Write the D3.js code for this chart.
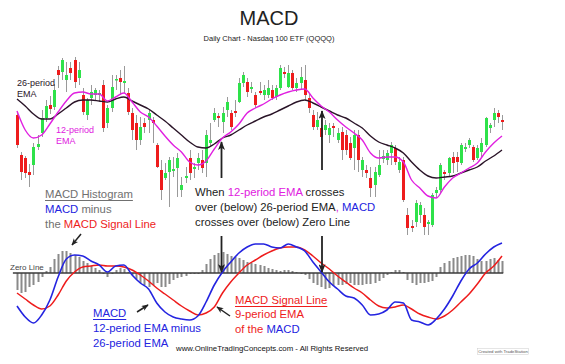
<!DOCTYPE html>
<html><head><meta charset="utf-8">
<script src="https://cdn.jsdelivr.net/npm/d3@7"></script>
<style>body{margin:0;background:#fff}svg{display:block}text{font-family:"Liberation Sans",Arial,sans-serif}</style>
</head><body><svg id="c" width="565" height="364"></svg>
<script>
// ---- Daily QQQQ sessions (price) ----
const opens=[42.5,38.5,38.2,36.8,37.5,39.3,40.7,42.2,43.5,43.3,47.0,46.8,46.0,47.2,48.0,46.2,44.5,42.5,44.2,44.5,44.5,45.5,41.7,43.2,46.0,46.2,45.7,44.7,42.7,41.7,40.0,41.7,42.0,42.0,39.5,37.0,36.2,36.8,36.9,37.2,35.0,36.2,38.2,37.1,37.7,38.0,37.7,39.7,42.0,42.4,41.8,43.0,42.7,42.9,43.8,45.7,45.8,45.1,44.5,44.9,44.5,44.5,45.0,44.3,45.2,46.8,45.3,46.7,45.2,45.7,46.0,44.2,42.5,41.3,41.2,41.0,40.5,41.4,40.0,40.8,40.5,39.7,39.2,40.5,37.0,37.0,36.2,35.5,36.5,38.1,38.0,38.7,39.2,37.0,38.0,32.5,31.4,31.8,32.5,32.5,31.6,31.5,34.7,35.0,36.8,36.7,38.3,38.3,37.7,39.1,39.5,39.3,38.2,38.8,39.5,41.2,42.0,42.7,42.0];
const highs=[42.8,38.8,38.4,37.6,39.7,40.5,43.0,44.0,44.4,45.6,47.4,48.2,47.8,47.8,48.3,47.8,45.2,44.2,45.5,45.2,45.0,46.0,43.5,46.5,46.5,47.0,47.4,45.2,43.2,42.5,42.3,42.2,43.0,42.3,39.7,38.0,37.7,38.3,38.3,38.7,36.3,37.3,39.0,37.7,38.7,39.0,41.0,41.7,43.2,42.7,43.3,44.3,43.0,44.0,46.2,46.8,46.2,45.8,44.8,45.8,45.5,46.0,45.5,45.5,47.5,47.3,47.5,47.0,46.2,47.3,47.5,44.7,43.0,42.8,42.0,42.0,41.7,41.7,41.2,41.3,41.0,40.3,41.0,41.0,38.3,37.5,37.3,37.3,39.0,39.0,39.0,39.8,39.5,38.3,38.3,33.2,32.0,34.0,33.8,33.2,32.0,34.7,35.3,37.7,37.0,38.3,38.8,38.8,39.7,39.7,40.2,39.5,39.5,40.2,42.3,41.7,43.2,43.0,42.5];
const lows=[39.2,36.0,36.2,35.3,36.5,39.0,40.3,41.8,42.6,43.0,45.2,46.0,44.8,46.0,45.2,45.5,42.5,42.0,43.5,44.0,43.8,40.8,41.2,42.8,45.0,44.5,44.7,42.5,40.0,39.0,39.5,40.7,40.7,39.7,37.2,34.0,36.0,33.3,36.3,34.3,34.3,35.7,36.0,36.2,37.0,36.7,36.3,39.3,41.8,41.3,40.7,42.3,41.0,42.3,43.7,45.3,44.3,44.7,43.2,44.5,44.0,44.2,44.0,44.0,45.0,46.2,45.2,45.0,44.8,45.0,44.0,42.7,41.0,41.0,40.0,40.5,39.7,40.3,39.7,38.0,38.5,38.0,37.0,36.8,36.3,36.2,34.3,34.3,36.3,37.7,37.5,37.5,37.5,36.7,33.8,30.5,30.8,31.3,31.7,30.5,30.5,31.3,34.2,34.7,36.0,36.3,36.7,36.8,37.5,38.8,39.2,37.8,38.0,38.3,39.3,40.7,41.3,41.7,41.0];
const closes=[39.5,36.8,36.7,36.5,39.3,39.6,42.2,43.4,43.1,45.0,46.5,48.0,46.5,46.7,45.8,47.0,42.8,44.0,44.8,45.0,44.7,41.2,43.2,45.3,46.1,45.8,45.9,42.8,41.0,40.0,41.3,41.3,42.7,41.7,37.3,35.0,36.7,38.0,37.1,38.2,35.5,36.4,36.7,37.3,38.2,37.2,40.5,40.0,42.7,42.2,42.7,43.8,41.3,42.7,45.7,46.5,44.8,45.3,43.5,44.7,45.0,45.2,44.2,45.2,47.2,46.6,46.7,45.2,45.7,46.3,44.5,43.2,41.3,42.0,40.3,41.5,41.2,41.2,40.7,39.0,39.0,38.2,40.5,38.0,38.0,36.7,35.2,36.8,37.5,38.4,38.7,39.5,37.8,37.8,34.0,31.2,31.2,33.7,33.5,31.3,31.8,34.5,35.0,37.5,36.6,38.2,37.7,37.8,39.5,39.3,40.0,38.0,39.2,39.7,42.2,41.5,42.7,42.3,41.8];
// moving averages sampled every 2 sessions
const ema26=[44.1,43.4,42.6,42.1,42.1,42.6,43.2,43.8,44.0,44.0,43.9,43.8,44.1,44.3,43.9,43.5,43.1,42.5,41.9,41.2,40.5,39.8,39.3,39.2,39.6,40.2,40.5,41.0,41.5,41.9,42.3,42.6,43.0,43.4,43.8,44.0,43.7,43.3,42.9,42.5,42.2,41.7,41.2,40.4,39.8,39.5,39.2,38.7,37.8,37.0,36.4,36.2,36.3,36.4,36.7,37.0,37.3,37.9,38.4,39.0];
const ema12=[42.9,41.0,40.2,40.5,41.6,42.8,43.9,44.7,44.8,44.6,44.6,43.9,44.3,44.7,43.8,42.8,42.3,41.4,40.4,39.5,38.8,37.8,37.5,37.9,39.1,40.2,40.8,41.6,42.7,43.2,43.6,44.1,44.5,44.8,45.0,45.1,44.2,43.4,42.8,42.0,41.3,40.7,40.0,38.7,38.2,38.3,38.3,37.8,36.0,35.2,34.4,34.2,35.3,36.2,36.7,37.2,37.7,38.8,39.7,40.4];
const macd=[-0.33,-0.44,-0.50,-0.42,-0.27,-0.04,0.14,0.18,0.17,0.12,0.08,0.01,0.07,0.08,-0.02,-0.10,-0.16,-0.30,-0.39,-0.44,-0.46,-0.47,-0.43,-0.29,-0.12,0.01,0.11,0.20,0.26,0.29,0.29,0.26,0.25,0.29,0.26,0.22,0.11,0.01,-0.09,-0.16,-0.23,-0.25,-0.32,-0.42,-0.41,-0.37,-0.29,-0.30,-0.47,-0.49,-0.52,-0.46,-0.36,-0.23,-0.08,0.04,0.10,0.19,0.26,0.30];
const signal=[-0.20,-0.26,-0.32,-0.36,-0.33,-0.22,-0.08,0.01,0.06,0.07,0.08,0.07,0.07,0.06,0.03,-0.02,-0.08,-0.15,-0.21,-0.27,-0.33,-0.38,-0.42,-0.40,-0.34,-0.20,-0.09,0.00,0.08,0.13,0.18,0.22,0.25,0.26,0.26,0.23,0.17,0.10,0.04,-0.03,-0.09,-0.15,-0.20,-0.27,-0.33,-0.35,-0.34,-0.32,-0.36,-0.41,-0.44,-0.46,-0.43,-0.37,-0.29,-0.21,-0.11,0.00,0.07,0.17];
const hist=[-0.17,-0.20,-0.19,-0.14,-0.12,-0.09,-0.04,0.02,0.06,0.14,0.19,0.22,0.22,0.20,0.18,0.16,0.12,0.10,0.07,0.05,0.03,-0.01,-0.04,-0.01,0.03,0.05,0.04,0.01,-0.02,-0.06,-0.10,-0.12,-0.14,-0.12,-0.10,-0.14,-0.14,-0.11,-0.07,-0.05,-0.04,-0.03,-0.01,-0.01,-0.01,0.03,0.09,0.14,0.18,0.20,0.21,0.19,0.17,0.16,0.15,0.13,0.11,0.10,0.09,0.08,0.07,0.05,0.04,0.03,0.02,0.03,0.03,0.02,0.01,-0.01,-0.02,-0.06,-0.10,-0.12,-0.14,-0.16,-0.15,-0.13,-0.12,-0.12,-0.11,-0.10,-0.12,-0.12,-0.12,-0.11,-0.11,-0.10,-0.08,-0.05,-0.02,0.01,0.03,0.03,0.01,-0.07,-0.10,-0.12,-0.10,-0.10,-0.09,-0.08,-0.04,0.06,0.10,0.12,0.15,0.16,0.17,0.18,0.18,0.17,0.14,0.12,0.12,0.14,0.15,0.13,0.12];
const lineStep=2;

const FONT='"Liberation Sans",Arial,sans-serif';
const C={green:'#2ee24a',red:'#ee1c1c',wick:'#9a9a9a',dark:'#2a1428',mag:'#e020e0',blue:'#2424e0',sig:'#ee1c1c',hist:'#8a8a8a',gray:'#707070',text:'#222'};

const svg=d3.select('#c');
const x=d3.scaleLinear().domain([0,opens.length-1]).range([17,502]);
const y=d3.scaleLinear().domain([30,49]).range([240,50]);
const ym=d3.scaleLinear().domain([-0.5,0.3]).range([323,243]);

const defs=svg.append('defs');
defs.append('marker').attr('id','ah').attr('viewBox','0 0 10 8').attr('markerWidth',9).attr('markerHeight',7)
  .attr('refX',9).attr('refY',4).attr('orient','auto').attr('markerUnits','userSpaceOnUse')
  .append('path').attr('d','M0,0 L10,4 L0,8 L2.5,4 Z').attr('fill','#222');
defs.append('marker').attr('id','ahs').attr('viewBox','0 0 10 8').attr('markerWidth',7).attr('markerHeight',6)
  .attr('refX',9).attr('refY',4).attr('orient','auto').attr('markerUnits','userSpaceOnUse')
  .append('path').attr('d','M0,0 L10,4 L0,8 L2.5,4 Z').attr('fill','#222');

// title
svg.append('text').attr('x',269).attr('y',25).attr('text-anchor','middle').attr('font-size',20).attr('fill',C.text).text('MACD');
svg.append('text').attr('x',269).attr('y',41).attr('text-anchor','middle').attr('font-size',7.5).attr('fill',C.text).text('Daily Chart - Nasdaq 100 ETF (QQQQ)');

// candles
const idx=d3.range(opens.length);
const cg=svg.append('g');
cg.selectAll('line.w').data(idx).join('line')
  .attr('x1',i=>Math.round(x(i))+0.5).attr('x2',i=>Math.round(x(i))+0.5)
  .attr('y1',i=>y(highs[i])).attr('y2',i=>y(lows[i])).attr('stroke',C.wick).attr('stroke-width',1);
cg.selectAll('rect').data(idx).join('rect')
  .attr('x',i=>Math.round(x(i))-1).attr('width',3)
  .attr('y',i=>y(Math.max(opens[i],closes[i])))
  .attr('height',i=>Math.max(1.5,Math.abs(y(opens[i])-y(closes[i]))))
  .attr('fill',i=>closes[i]>=opens[i]?C.green:C.red);

// EMAs
const lineP=(sc)=>d3.line().x((d,k)=>x(k*lineStep)).y(d=>sc(d)).curve(d3.curveMonotoneX);
svg.append('path').attr('d',lineP(y)(ema26)).attr('fill','none').attr('stroke',C.dark).attr('stroke-width',1.4);
svg.append('path').attr('d',lineP(y)(ema12)).attr('fill','none').attr('stroke',C.mag).attr('stroke-width',1.4);

// MACD panel
svg.append('g').selectAll('rect').data(idx).join('rect')
  .attr('x',i=>Math.round(x(i))-0.5).attr('width',2)
  .attr('y',i=>Math.min(ym(0),ym(hist[i])))
  .attr('height',i=>Math.abs(ym(hist[i])-ym(0)))
  .attr('fill',C.hist);
svg.append('line').attr('x1',x(-1)).attr('x2',x(opens.length-0.7)).attr('y1',ym(0)).attr('y2',ym(0))
  .attr('stroke','#3a3a3a').attr('stroke-width',1.5);
svg.append('path').attr('d',lineP(ym)(signal)).attr('fill','none').attr('stroke',C.sig).attr('stroke-width',1.5);
svg.append('path').attr('d',lineP(ym)(macd)).attr('fill','none').attr('stroke',C.blue).attr('stroke-width',1.6);
svg.append('text').attr('x',10).attr('y',270).attr('font-size',8).attr('fill','#444').text('Zero Line');

// annotations
function ml(xp,yp,parts,fs){
  const t=svg.append('text').attr('x',xp).attr('y',yp).attr('font-size',fs);
  parts.forEach(p=>t.append('tspan').attr('fill',p[1]).text(p[0]));
  return t;
}
ml(17,86,[['26-period',C.dark]],9);
ml(17,97,[['EMA',C.dark]],9);
ml(56,133,[['12-period',C.mag]],9);
ml(56,144,[['EMA',C.mag]],9);

const FS=11.3;
const h1=ml(45,198,[['MACD Histogram',C.gray]],FS);
ml(45,213,[['MACD',C.blue],[' minus',C.gray]],FS);
ml(45,228,[['the ',C.gray],['MACD Signal Line',C.red]],FS);

ml(195,196,[['When ','#222'],['12-period EMA',C.mag],[' crosses','#222']],FS);
ml(195,211,[['over (below) 26-period EMA','#222'],[', ',C.mag],['MACD',C.blue]],FS);
ml(195,226,[['crosses over (below) Zero Line','#222']],FS);

const h2=ml(93,317,[['MACD',C.blue]],FS);
ml(93,332,[['12-period EMA minus',C.blue]],FS);
ml(93,347,[['26-period EMA',C.blue]],FS);

const h3=ml(235,304,[['MACD Signal Line',C.red]],FS);
ml(235,318,[['9-period EMA',C.red]],FS);
ml(235,333,[['of the ',C.red],['MACD',C.blue]],FS);

function underline(t,yy,col){
  const w=t.node().getComputedTextLength();const x0=+t.attr('x');
  svg.append('line').attr('x1',x0).attr('x2',x0+w).attr('y1',yy).attr('y2',yy).attr('stroke',col).attr('stroke-width',1);
}
underline(h1,200.5,C.gray);underline(h2,319.5,C.blue);underline(h3,306.5,C.red);

svg.append('text').attr('x',176).attr('y',351).attr('font-size',7.8).attr('fill','#111').text('www.OnlineTradingConcepts.com - All Rights Reserved');
svg.append('rect').attr('x',477.5).attr('y',348.5).attr('width',51).attr('height',6).attr('fill','#fff').attr('stroke','#ccc').attr('stroke-width',0.5);
svg.append('text').attr('x',503).attr('y',353.3).attr('text-anchor','middle').attr('font-size',4.3).attr('fill','#555').text('Created with TradeStation');

// arrows
const arrows=[[221.5,178,221.5,142,'ah'],[322,170,322,111,'ah'],[221.5,236,221.5,272,'ah'],[322,236,322,272,'ah'],
  [81,234,72,245,'ahs'],[137,312,148,305,'ahs'],[230,316,217,307,'ahs']];
svg.append('g').selectAll('line').data(arrows).join('line')
  .attr('x1',d=>d[0]).attr('y1',d=>d[1]).attr('x2',d=>d[2]).attr('y2',d=>d[3])
  .attr('stroke','#222').attr('stroke-width',d=>d[4]==='ah'?1.8:1.5).attr('marker-end',d=>`url(#${d[4]})`);
</script></body></html>
